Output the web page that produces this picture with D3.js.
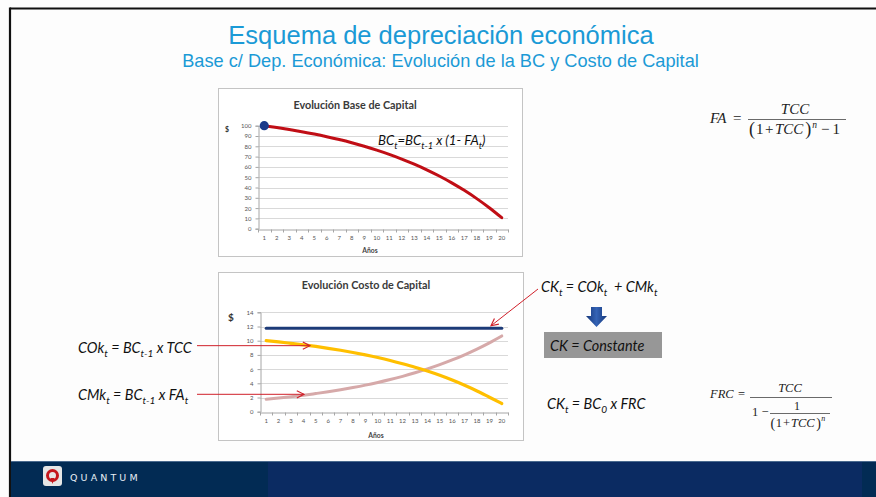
<!DOCTYPE html>
<html>
<head>
<meta charset="utf-8">
<script src="https://cdn.jsdelivr.net/npm/d3@7/dist/d3.min.js"></script>
<style>
  html, body { margin: 0; padding: 0; background: #fdfdfd; }
  svg { display: block; }
</style>
</head>
<body>
<script>
// ---- Data -------------------------------------------------------------
const years = d3.range(1, 21).map(String);
// Base de Capital (BC) at the start of each year
const baseCapital = [100, 98.25, 96.33, 94.22, 91.90, 89.34, 86.53, 83.44, 80.03, 76.29,
                     72.17, 67.64, 62.66, 57.18, 51.16, 44.53, 37.23, 29.21, 20.38, 10.68];
// Costo de oportunidad (COk), costo de mantenimiento (CMk) and total (CK)
const costoOportunidad = [10.00, 9.83, 9.63, 9.42, 9.19, 8.93, 8.65, 8.34, 8.00, 7.63,
                          7.22, 6.76, 6.27, 5.72, 5.12, 4.45, 3.72, 2.92, 2.04, 1.15];
const costoMantenimiento = [1.75, 1.92, 2.11, 2.32, 2.56, 2.81, 3.09, 3.40, 3.74, 4.12,
                            4.53, 4.98, 5.48, 6.03, 6.63, 7.29, 8.02, 8.82, 9.70, 10.67];
const costoCapital = [11.75, 11.75, 11.75, 11.75, 11.75, 11.75, 11.75, 11.75, 11.75, 11.75,
                      11.75, 11.75, 11.75, 11.75, 11.75, 11.75, 11.75, 11.75, 11.75, 11.75];
const ticksBC = [0, 10, 20, 30, 40, 50, 60, 70, 80, 90, 100];
const ticksCK = [0, 2, 4, 6, 8, 10, 12, 14];

const W = 876, H = 497;
const svg = d3.select("body").append("svg").attr("width", W).attr("height", H);

const defs = svg.append("defs");
defs.append("marker").attr("id", "openArrow")
  .attr("viewBox", "0 0 10 10").attr("refX", 9).attr("refY", 5)
  .attr("markerWidth", 9).attr("markerHeight", 9).attr("orient", "auto")
  .attr("markerUnits", "userSpaceOnUse")
  .append("path").attr("d", "M1,1 L9,5 L1,9").attr("fill", "none")
  .attr("stroke", "#d0202a").attr("stroke-width", 1.3);
const gArrow = defs.append("linearGradient").attr("id", "blueArrow")
  .attr("x1", 0).attr("x2", 1).attr("y1", 0).attr("y2", 0);
gArrow.append("stop").attr("offset", "0%").attr("stop-color", "#15377a");
gArrow.append("stop").attr("offset", "50%").attr("stop-color", "#3463b5");
gArrow.append("stop").attr("offset", "100%").attr("stop-color", "#15377a");
defs.append("filter").attr("id", "soft")
  .attr("filterUnits", "userSpaceOnUse")
  .attr("x", 0).attr("y", 0).attr("width", W).attr("height", H)
  .append("feGaussianBlur").attr("stdDeviation", 0.6);

// ---- Slide frame --------------------------------------------------------
svg.append("rect").attr("x", 0).attr("y", 0).attr("width", W).attr("height", H).attr("fill", "#fdfdfd");
svg.append("line").attr("x1", 10).attr("x2", W).attr("y1", 8.5).attr("y2", 8.5)
  .attr("stroke", "#111").attr("stroke-width", 2.2);
svg.append("line").attr("x1", 10).attr("x2", 10).attr("y1", 7.5).attr("y2", H)
  .attr("stroke", "#111").attr("stroke-width", 2.2);

// Footer band
svg.append("rect").attr("x", 11).attr("y", 461).attr("width", W - 11).attr("height", 36).attr("fill", "#022b54");
svg.append("rect").attr("x", 268).attr("y", 461).attr("width", 594).attr("height", 36).attr("fill", "#0b2b62");
svg.append("line").attr("x1", 11).attr("x2", W).attr("y1", 461.5).attr("y2", 461.5)
  .attr("stroke", "#4a6a8e").attr("stroke-width", 1);
const logo = svg.append("g");
logo.append("rect").attr("x", 43).attr("y", 466).attr("width", 19).attr("height", 20).attr("rx", 3)
  .attr("fill", "#e6e6e6");
logo.append("circle").attr("cx", 52.5).attr("cy", 475.5).attr("r", 5).attr("fill", "none")
  .attr("stroke", "#c4161c").attr("stroke-width", 3);
logo.append("path").attr("d", "M50.5,478 L54.5,478 L52.5,484 Z").attr("fill", "#c4161c");
svg.append("text").attr("x", 70).attr("y", 481).text("QUANTUM")
  .attr("font-family", "DejaVu Sans, sans-serif").attr("font-size", 9.5)
  .attr("letter-spacing", 3.1).attr("fill", "#e8eef5");

// ---- Titles --------------------------------------------------------------
svg.append("text").attr("x", 441).attr("y", 44).attr("text-anchor", "middle")
  .attr("font-family", "Liberation Sans, Arial, sans-serif").attr("font-size", 25.5)
  .attr("fill", "#1b9ad6").text("Esquema de depreciación económica");
svg.append("text").attr("x", 440.5).attr("y", 67).attr("text-anchor", "middle")
  .attr("font-family", "Liberation Sans, Arial, sans-serif").attr("font-size", 18.2)
  .attr("fill", "#1b9ad6").text("Base c/ Dep. Económica: Evolución de la BC y Costo de Capital");

// ---- Helpers -------------------------------------------------------------
const chartFont = "Lato, 'Open Sans', sans-serif";

function richText(g, x, y, parts, opts) {
  const t = g.append("text").attr("x", x).attr("y", y)
    .attr("font-family", opts.family).attr("font-size", opts.size)
    .attr("font-style", opts.italic ? "italic" : "normal")
    .attr("fill", opts.fill || "#111")
    .attr("text-anchor", opts.anchor || "start")
    .style("white-space", "pre");
  let shift = 0;
  parts.forEach(p => {
    const target = p.sub ? opts.size * 0.28 : (p.sup ? -opts.size * 0.38 : 0);
    const ts = t.append("tspan").text(p.t)
      .attr("font-size", (p.sub || p.sup) ? opts.size * 0.7 : opts.size);
    if (target !== shift) { ts.attr("dy", target - shift); shift = target; }
    if (p.style) ts.attr("font-style", p.style);
  });
  return t;
}

// lays out separate glyph groups left to right, measuring each one
function sequence(g, x, y, pieces) {
  let cx = x;
  pieces.forEach(p => {
    const t = g.append("text").attr("x", cx + (p.gap || 0)).attr("y", y + (p.dy || 0))
      .attr("font-size", p.size).attr("font-style", p.it ? "italic" : "normal").text(p.t);
    cx += (p.gap || 0) + t.node().getComputedTextLength();
  });
  return cx;
}

function drawChart(cfg) {
  const g = svg.append("g");
  g.append("rect").attr("x", cfg.box[0]).attr("y", cfg.box[1])
    .attr("width", cfg.box[2] - cfg.box[0]).attr("height", cfg.box[3] - cfg.box[1])
    .attr("fill", "#ffffff").attr("stroke", "#c4c4c4").attr("stroke-width", 1);

  const x = d3.scaleBand().domain(years).range([cfg.left, cfg.right]);
  const y = d3.scaleLinear().domain([0, cfg.max]).range([cfg.bottom, cfg.top]);

  // gridlines
  g.append("g").selectAll("line").data(cfg.ticks.filter(d => d > 0)).join("line")
    .attr("x1", cfg.left).attr("x2", cfg.right)
    .attr("y1", d => Math.round(y(d)) + 0.5).attr("y2", d => Math.round(y(d)) + 0.5)
    .attr("stroke", "#d9d9d9").attr("stroke-width", 1);

  // y axis
  const ya = g.append("g").attr("transform", `translate(${cfg.left + 0.5},0)`)
    .call(d3.axisLeft(y).tickValues(cfg.ticks).tickSize(3).tickPadding(4));
  ya.select(".domain").attr("stroke", "#a6a6a6");
  ya.selectAll(".tick line").attr("stroke", "#a6a6a6");
  ya.selectAll("text").attr("font-family", chartFont).attr("font-size", cfg.tickSize).attr("fill", "#555");

  // x axis with marks between categories
  const xa = g.append("g").attr("transform", `translate(0,${Math.round(cfg.bottom) + 0.5})`)
    .call(d3.axisBottom(x).tickSize(0).tickPadding(6));
  xa.select(".domain").attr("stroke", "#a6a6a6");
  xa.selectAll("text").attr("font-family", chartFont).attr("font-size", cfg.tickSize).attr("fill", "#555");
  g.append("g").selectAll("line").data(d3.range(0, years.length + 1)).join("line")
    .attr("x1", i => Math.round(cfg.left + i * x.step()) + 0.5)
    .attr("x2", i => Math.round(cfg.left + i * x.step()) + 0.5)
    .attr("y1", Math.round(cfg.bottom) + 0.5).attr("y2", Math.round(cfg.bottom) + 3.5)
    .attr("stroke", "#a6a6a6");

  g.append("text").attr("x", cfg.titleX).attr("y", cfg.titleY).attr("text-anchor", "middle")
    .attr("font-family", chartFont).attr("font-weight", "bold").attr("font-size", 10.8)
    .attr("fill", "#3a3a3a").text(cfg.title);
  g.append("text").attr("x", cfg.xLabelX).attr("y", cfg.xLabelY).attr("text-anchor", "middle")
    .attr("font-family", chartFont).attr("font-weight", "bold").attr("font-size", 6.8)
    .attr("fill", "#444").text("Años");
  g.append("text").attr("x", cfg.dollar[0]).attr("y", cfg.dollar[1]).attr("text-anchor", "middle")
    .attr("font-family", chartFont).attr("font-weight", "bold").attr("font-size", cfg.dollar[2])
    .attr("fill", "#333").text("$");

  const line = d3.line().x((d, i) => x(years[i]) + x.bandwidth() / 2).y(d => y(d))
    .curve(d3.curveMonotoneX);
  cfg.series.forEach(s => {
    g.append("path").datum(s.values).attr("d", line).attr("fill", "none")
      .attr("stroke", s.color).attr("stroke-width", s.width).attr("stroke-linecap", "round")
      .attr("filter", "url(#soft)");
  });
  return { g, x, y };
}

// ---- Chart 1: Evolución Base de Capital ------------------------------------
const c1 = drawChart({
  box: [218.5, 88.5, 522.5, 256.5],
  left: 258, right: 508, top: 125.7, bottom: 228.7, max: 100,
  ticks: ticksBC, tickSize: 6,
  title: "Evolución Base de Capital", titleX: 355, titleY: 108.5,
  xLabelX: 370, xLabelY: 253, dollar: [227, 132, 7],
  series: [{ values: baseCapital, color: "#c00d12", width: 3 }]
});
c1.g.append("circle")
  .attr("cx", c1.x(years[0]) + c1.x.bandwidth() / 2).attr("cy", c1.y(baseCapital[0]))
  .attr("r", 4.6).attr("fill", "#1a3a8a").attr("filter", "url(#soft)");
richText(c1.g, 378, 145, [
  { t: "BC" }, { t: "t", sub: true }, { t: "=BC" }, { t: "t-1", sub: true },
  { t: " x (1- FA" }, { t: "t", sub: true }, { t: ")" }
], { family: chartFont, size: 13.2, italic: true, fill: "#111" });

// ---- Chart 2: Evolución Costo de Capital ----------------------------------
const c2 = drawChart({
  box: [218.5, 272.5, 523.5, 440.5],
  left: 260, right: 508, top: 312.3, bottom: 411.7, max: 14,
  ticks: ticksCK, tickSize: 6,
  title: "Evolución Costo de Capital", titleX: 366, titleY: 289,
  xLabelX: 376, xLabelY: 437.5, dollar: [231, 320.5, 10],
  series: [
    { values: costoMantenimiento, color: "#d6a9a9", width: 3 },
    { values: costoOportunidad, color: "#ffbf00", width: 3.2 },
    { values: costoCapital, color: "#1f3a78", width: 3 }
  ]
});

// annotation arrows
const arrowY1 = c2.y(9.3), arrowY2 = c2.y(2.45);
svg.append("line").attr("x1", 197).attr("y1", arrowY1).attr("x2", 310).attr("y2", arrowY1)
  .attr("stroke", "#d0202a").attr("stroke-width", 1).attr("marker-end", "url(#openArrow)");
svg.append("line").attr("x1", 197).attr("y1", arrowY2).attr("x2", 304).attr("y2", arrowY2)
  .attr("stroke", "#d0202a").attr("stroke-width", 1).attr("marker-end", "url(#openArrow)");
svg.append("line").attr("x1", 538).attr("y1", 289).attr("x2", 491).attr("y2", c2.y(12.1))
  .attr("stroke", "#d0202a").attr("stroke-width", 1).attr("marker-end", "url(#openArrow)");

// ---- Formula texts ---------------------------------------------------------
const ital = { family: chartFont, size: 14.4, italic: true, fill: "#111" };
richText(svg, 78, 352.5, [
  { t: "COk" }, { t: "t", sub: true }, { t: " = BC" }, { t: "t-1", sub: true }, { t: " x TCC" }
], ital);
richText(svg, 78, 399.5, [
  { t: "CMk" }, { t: "t", sub: true }, { t: " = BC" }, { t: "t-1", sub: true }, { t: " x FA" }, { t: "t", sub: true }
], ital);
richText(svg, 541, 291.5, [
  { t: "CK" }, { t: "t", sub: true }, { t: " = COk" }, { t: "t", sub: true }, { t: "  + CMk" }, { t: "t", sub: true }
], ital);
richText(svg, 547, 408.5, [
  { t: "CK" }, { t: "t", sub: true }, { t: " = BC" }, { t: "0", sub: true }, { t: " x FRC" }
], ital);

// down arrow and highlighted box
svg.append("path")
  .attr("d", "M591,307 L602,307 L602,316 L607,316 L596.5,327 L586,316 L591,316 Z")
  .attr("fill", "url(#blueArrow)");
svg.append("rect").attr("x", 544).attr("y", 332).attr("width", 118).attr("height", 26)
  .attr("fill", "#979797");
svg.append("text").attr("x", 550).attr("y", 350.5).attr("font-family", chartFont)
  .attr("font-style", "italic").attr("font-size", 14.4).attr("fill", "#111").text("CK = Constante");

// ---- Math formulas (serif) -------------------------------------------------
const serif = "'Liberation Serif', 'Times New Roman', serif";
const fa = svg.append("g").attr("font-family", serif).attr("fill", "#222");
fa.append("text").attr("x", 710).attr("y", 123).attr("font-size", 15).attr("font-style", "italic").text("FA");
fa.append("text").attr("x", 733).attr("y", 123).attr("font-size", 15).text("=");
fa.append("line").attr("x1", 748).attr("x2", 846).attr("y1", 119.5).attr("y2", 119.5)
  .attr("stroke", "#444").attr("stroke-width", 0.8);
fa.append("text").attr("x", 795).attr("y", 114).attr("text-anchor", "middle")
  .attr("font-size", 15).attr("font-style", "italic").text("TCC");
sequence(fa, 749, 134, [
  { t: "(", size: 18, dy: 1 },
  { t: "1", size: 15, gap: 1 },
  { t: "+", size: 15, gap: 1.5 },
  { t: "TCC", size: 15, it: true, gap: 1.5 },
  { t: ")", size: 18, dy: 1, gap: 2 },
  { t: "n", size: 9.5, it: true, dy: -6, gap: 1 },
  { t: "−", size: 15, gap: 4 },
  { t: "1", size: 15, gap: 3 }
]);

const frc = svg.append("g").attr("font-family", serif).attr("fill", "#222");
frc.append("text").attr("x", 710).attr("y", 398).attr("font-size", 12.5).attr("font-style", "italic").text("FRC");
frc.append("text").attr("x", 738).attr("y", 398).attr("font-size", 12.5).text("=");
frc.append("line").attr("x1", 750).attr("x2", 832).attr("y1", 397.5).attr("y2", 397.5)
  .attr("stroke", "#444").attr("stroke-width", 0.8);
frc.append("text").attr("x", 790).attr("y", 392).attr("text-anchor", "middle")
  .attr("font-size", 12.5).attr("font-style", "italic").text("TCC");
frc.append("text").attr("x", 752).attr("y", 416).attr("font-size", 12.5).text("1 −");
frc.append("line").attr("x1", 770).attr("x2", 830).attr("y1", 413.5).attr("y2", 413.5)
  .attr("stroke", "#444").attr("stroke-width", 0.8);
frc.append("text").attr("x", 797).attr("y", 410).attr("text-anchor", "middle")
  .attr("font-size", 12).text("1");
sequence(frc, 770.5, 427, [
  { t: "(", size: 14, dy: 1 },
  { t: "1", size: 12.5, gap: 0.5 },
  { t: "+", size: 12.5, gap: 1 },
  { t: "TCC", size: 12.5, it: true, gap: 1 },
  { t: ")", size: 14, dy: 1, gap: 1.5 },
  { t: "n", size: 8, it: true, dy: -6, gap: 0.5 }
]);
</script>
</body>
</html>
